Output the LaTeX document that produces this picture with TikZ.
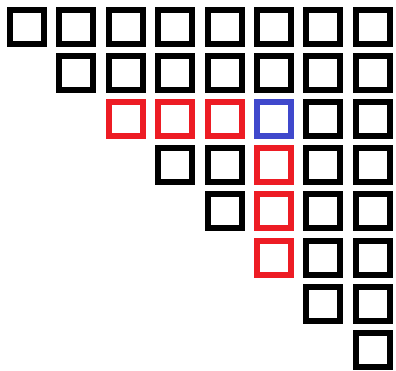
\documentclass[tikz,border=0pt]{standalone}
\usetikzlibrary{positioning}
\definecolor{cellred}{HTML}{ED1C24}
\definecolor{cellblue}{HTML}{3F48CC}

\begin{document}
\begin{tikzpicture}[
x=1pt, y=1pt,
on grid, node distance=46.1pt and 49.4pt,
cell/.style={draw, rectangle, line width=6pt, minimum size=34pt, inner sep=0pt},
dep/.style={cell, draw=cellred},
goal/.style={cell, draw=cellblue}
]
\useasboundingbox (0,0) rectangle (396,-370);

% row 0
\node[cell] (c00) at (27,-27) {};
\node[cell, right=of c00] (c01) {};
\node[cell, right=of c01] (c02) {};
\node[cell, right=of c02] (c03) {};
\node[cell, right=of c03] (c04) {};
\node[cell, right=of c04] (c05) {};
\node[cell, right=of c05] (c06) {};
\node[cell, right=of c06] (c07) {};

% row 1
\node[cell, below=of c01] (c11) {};
\node[cell, right=of c11] (c12) {};
\node[cell, right=of c12] (c13) {};
\node[cell, right=of c13] (c14) {};
\node[cell, right=of c14] (c15) {};
\node[cell, right=of c15] (c16) {};
\node[cell, right=of c16] (c17) {};

% row 2
\node[dep, below=of c12] (c22) {};
\node[dep, right=of c22] (c23) {};
\node[dep, right=of c23] (c24) {};
\node[goal, right=of c24] (c25) {};
\node[cell, right=of c25] (c26) {};
\node[cell, right=of c26] (c27) {};

% row 3
\node[cell, below=of c23] (c33) {};
\node[cell, right=of c33] (c34) {};
\node[dep, right=of c34] (c35) {};
\node[cell, right=of c35] (c36) {};
\node[cell, right=of c36] (c37) {};

% row 4
\node[cell, below=of c34] (c44) {};
\node[dep, right=of c44] (c45) {};
\node[cell, right=of c45] (c46) {};
\node[cell, right=of c46] (c47) {};

% row 5
\node[dep, below=of c45] (c55) {};
\node[cell, right=of c55] (c56) {};
\node[cell, right=of c56] (c57) {};

% row 6
\node[cell, below=of c56] (c66) {};
\node[cell, right=of c66] (c67) {};

% row 7
\node[cell, below=of c67] (c77) {};

\end{tikzpicture}
\end{document}
